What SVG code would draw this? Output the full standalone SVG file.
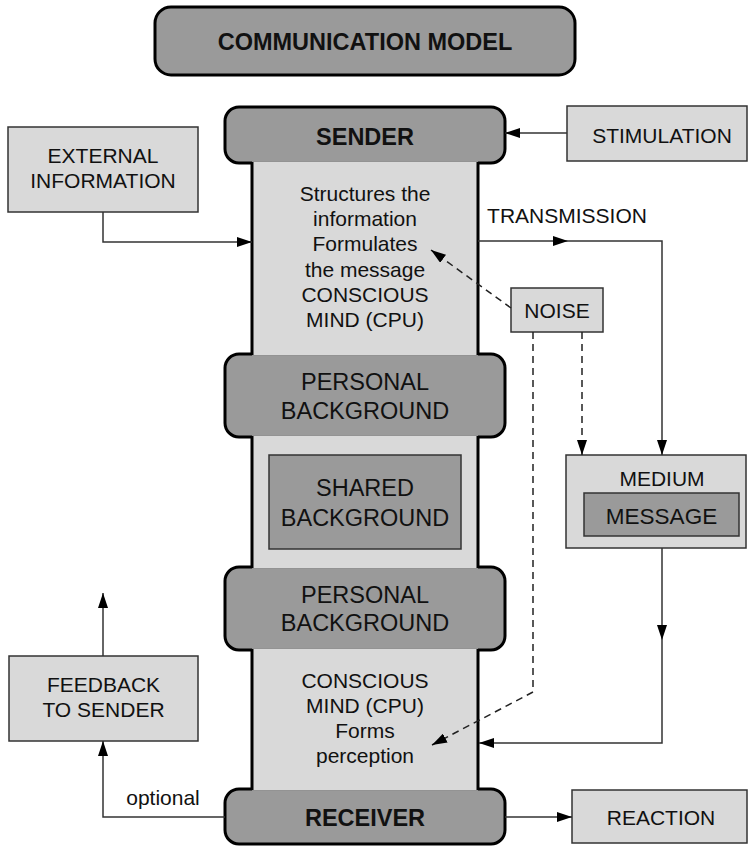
<svg xmlns="http://www.w3.org/2000/svg" width="749" height="846" viewBox="0 0 749 846">
  <defs>
    <marker id="arrow" viewBox="0 0 15 10" refX="15" refY="5" markerWidth="15" markerHeight="10" markerUnits="userSpaceOnUse" orient="auto">
      <path d="M0,0 L15,5 L0,10 z" fill="#000"/>
    </marker>
    <style>
      text { font-family: "Liberation Sans", Arial, Helvetica, sans-serif; font-size: 21px; fill: #111; text-anchor: middle; }
      .bold { font-weight: bold; font-size: 23.5px; }
      .big { font-size: 23.5px; }
      .mid { font-size: 22.5px; }
      .stage { fill: #9a9a9a; stroke: #000; stroke-width: 3; }
      .box { fill: #d9d9d9; stroke: #333; stroke-width: 1.5; }
      .inner { fill: #9a9a9a; stroke: #333; stroke-width: 1.5; }
      .col { fill: #d9d9d9; stroke: none; }
      .edge { stroke: #000; stroke-width: 3; fill: none; }
      .link { stroke: #333; stroke-width: 1.5; fill: none; }
      .dash { stroke: #222; stroke-width: 1.5; fill: none; stroke-dasharray: 7 5; }
    </style>
  </defs>

  <!-- title -->
  <g id="title">
    <rect class="stage" x="155" y="7" width="420" height="68" rx="16"/>
    <text class="bold" x="365" y="50">COMMUNICATION MODEL</text>
  </g>

  <!-- central column: sender at the top, receiver at the bottom -->
  <g id="sender">
    <rect class="stage" x="225" y="107" width="280" height="56" rx="14"/>
  </g>
  <g id="personal-background-1">
    <rect class="stage" x="225" y="354" width="280" height="83" rx="14"/>
  </g>
  <g id="personal-background-2">
    <rect class="stage" x="225" y="567" width="280" height="83" rx="14"/>
  </g>
  <g id="receiver">
    <rect class="stage" x="225" y="789" width="280" height="55" rx="14"/>
  </g>

  <g id="column">
    <rect class="col" x="252" y="161.5" width="226" height="194"/>
    <rect class="col" x="252" y="435.5" width="226" height="133"/>
    <rect class="col" x="252" y="648.5" width="226" height="142"/>
    <path class="edge" d="M252,162 V355 M478,162 V355 M252,436 V568 M478,436 V568 M252,649 V790 M478,649 V790"/>
  </g>

  <g id="sender-label">
    <text class="bold" x="365" y="145">SENDER</text>
    <text x="365" y="201">Structures the</text>
    <text x="365" y="226">information</text>
    <text x="365" y="251">Formulates</text>
    <text x="365" y="277">the message</text>
    <text x="365" y="302">CONSCIOUS</text>
    <text x="365" y="327">MIND (CPU)</text>
  </g>
  <g id="personal-background-1-label">
    <text class="big" x="365" y="390">PERSONAL</text>
    <text class="big" x="365" y="419">BACKGROUND</text>
  </g>
  <g id="shared-background">
    <rect class="inner" x="269" y="455" width="192" height="94"/>
    <text class="big" x="365" y="496">SHARED</text>
    <text class="big" x="365" y="526">BACKGROUND</text>
  </g>
  <g id="personal-background-2-label">
    <text class="big" x="365" y="603">PERSONAL</text>
    <text class="big" x="365" y="631">BACKGROUND</text>
  </g>
  <g id="receiver-label">
    <text x="365" y="688">CONSCIOUS</text>
    <text x="365" y="713">MIND (CPU)</text>
    <text x="365" y="738">Forms</text>
    <text x="365" y="763">perception</text>
    <text class="bold" x="365" y="826">RECEIVER</text>
  </g>

  <!-- side boxes -->
  <g id="external-information">
    <rect class="box" x="8" y="127" width="190" height="85"/>
    <text x="103" y="163">EXTERNAL</text>
    <text x="103" y="188">INFORMATION</text>
  </g>
  <g id="stimulation">
    <rect class="box" x="567" y="106" width="180" height="55"/>
    <text x="662" y="143">STIMULATION</text>
  </g>
  <g id="noise">
    <rect class="box" x="511" y="288" width="92" height="44"/>
    <text x="557" y="318">NOISE</text>
  </g>
  <g id="medium">
    <rect class="box" x="566" y="455" width="180" height="93"/>
    <text x="662" y="486">MEDIUM</text>
    <rect class="inner" x="584" y="493" width="155" height="43"/>
    <text class="mid" x="661.5" y="524">MESSAGE</text>
  </g>
  <g id="feedback">
    <rect class="box" x="9" y="656" width="189" height="85"/>
    <text x="103.5" y="692">FEEDBACK</text>
    <text x="103.5" y="717">TO SENDER</text>
  </g>
  <g id="reaction">
    <rect class="box" x="572" y="790" width="175" height="53"/>
    <text x="661" y="825">REACTION</text>
  </g>

  <!-- connectors -->
  <g id="connectors">
    <path class="link" d="M567,133 H505" marker-end="url(#arrow)"/>
    <path class="link" d="M103,212 V242 H252" marker-end="url(#arrow)"/>
    <path class="link" d="M478,241 H568" marker-end="url(#arrow)"/>
    <path class="link" d="M568,241 H662 V455" marker-end="url(#arrow)"/>
    <path class="dash" d="M511,308 L431,250" marker-end="url(#arrow)"/>
    <path class="dash" d="M582,332 V455" marker-end="url(#arrow)"/>
    <path class="dash" d="M533,332 V692 L432,745" marker-end="url(#arrow)"/>
    <path class="link" d="M662,548 V640" marker-end="url(#arrow)"/>
    <path class="link" d="M662,640 V743 H479" marker-end="url(#arrow)"/>
    <path class="link" d="M225,817 H103 V741" marker-end="url(#arrow)"/>
    <path class="link" d="M103,656 V593" marker-end="url(#arrow)"/>
    <path class="link" d="M505,817 H572" marker-end="url(#arrow)"/>
    <text x="163" y="805">optional</text>
    <text x="567" y="223">TRANSMISSION</text>
  </g>
</svg>
